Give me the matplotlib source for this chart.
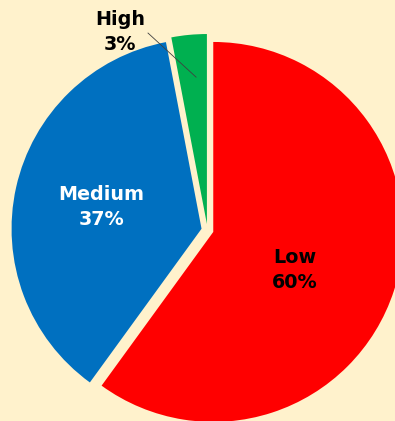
import matplotlib
matplotlib.use("Agg")
import matplotlib.pyplot as plt

# Risk level shares
categories = ["Low", "Medium", "High"]
shares = [60, 37, 3]
colors = ["#FF0000", "#0070C0", "#00B050"]
label_colors = ["black", "white", "black"]

bg = "#FFF2CC"
fig = plt.figure(figsize=(3.95, 4.21), dpi=100, facecolor=bg)
ax = fig.add_axes([0, 0, 1, 1])
ax.set_facecolor(bg)

wedges, _ = ax.pie(shares, colors=colors, startangle=90, counterclock=False,
                   radius=1.0, explode=[0.032] * len(shares),
                   wedgeprops=dict(linewidth=0))

ax.set_aspect("equal")
ax.set_xlim(-1.092, 0.987)
ax.set_ylim(-1.005, 1.211)
ax.axis("off")

# Label placement for each slice
label_pos = [(0.46, -0.21), (-0.56, 0.12), (-0.46, 1.04)]
for cat, val, col, (x, y) in zip(categories, shares, label_colors, label_pos):
    ax.text(x, y, f"{cat}\n{val}%", ha="center", va="center",
            fontsize=13.8, fontweight="bold", color=col,
            family="DejaVu Sans", linespacing=1.4)

# Leader line for the small slice
ax.plot([-0.313, -0.06], [1.037, 0.805], color="#404040", linewidth=0.6)

fig.savefig("out.png", dpi=100, facecolor=bg)
